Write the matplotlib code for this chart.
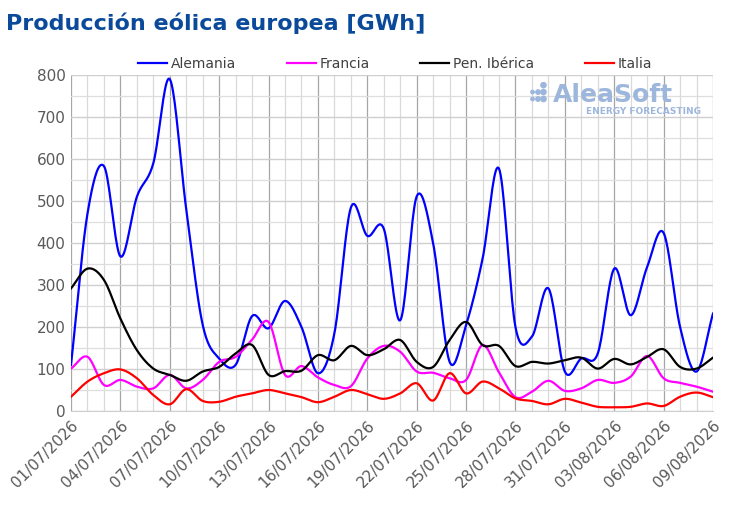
import numpy as np
import matplotlib
matplotlib.use("Agg")
import matplotlib.pyplot as plt
import matplotlib.dates as mdates
from matplotlib.ticker import MultipleLocator
import datetime as dt

start = dt.date(2026, 7, 1)
n_days = 40
dates = [start + dt.timedelta(days=i) for i in range(n_days)]

alemania = [110, 470, 583, 368, 510, 590, 790, 480, 205, 125, 110, 226,
            197, 262, 200, 90, 185, 484, 417, 434, 216, 511, 399, 117,
            205, 362, 577, 200, 177, 292, 94, 125, 137, 339, 228, 343,
            424, 200, 94, 232]
francia = [101, 129, 62, 74, 58, 54, 86, 54, 74, 117, 129, 170,
           212, 86, 107, 80, 62, 59, 125, 155, 141, 94, 91, 78,
           74, 157, 92, 33, 46, 72, 48, 54, 74, 67, 82, 131,
           78, 67, 58, 46]
iberica = [292, 339, 312, 220, 145, 101, 86, 72, 94, 105, 137, 157,
           86, 95, 96, 133, 121, 155, 133, 147, 169, 117, 105, 169,
           212, 157, 155, 107, 117, 113, 121, 127, 101, 124, 111, 129,
           147, 105, 101, 127]
italia = [34, 70, 90, 99, 78, 38, 16, 52, 24, 22, 34, 42,
          50, 42, 33, 21, 34, 50, 40, 29, 42, 66, 25, 90,
          42, 70, 54, 30, 24, 16, 29, 20, 10, 9, 10, 18,
          12, 34, 44, 33]

series = [("Alemania", alemania, "#0000FF"),
          ("Francia", francia, "#FF00FF"),
          ("Pen. Ibérica", iberica, "#000000"),
          ("Italia", italia, "#FF0000")]


def smooth(x, y, n=20):
    x = np.asarray(x, float)
    y = np.asarray(y, float)
    xs, ys = [], []
    m = len(x)
    for i in range(m - 1):
        p0 = (x[i - 1], y[i - 1]) if i > 0 else (2 * x[i] - x[i + 1], 2 * y[i] - y[i + 1])
        p1 = (x[i], y[i])
        p2 = (x[i + 1], y[i + 1])
        p3 = (x[i + 2], y[i + 2]) if i + 2 < m else (2 * x[i + 1] - x[i], 2 * y[i + 1] - y[i])
        t = np.linspace(0, 1, n, endpoint=False)[:, None]
        c = [np.array(p) for p in (p0, p1, p2, p3)]
        pts = 0.5 * ((2 * c[1]) + (-c[0] + c[2]) * t
                     + (2 * c[0] - 5 * c[1] + 4 * c[2] - c[3]) * t ** 2
                     + (-c[0] + 3 * c[1] - 3 * c[2] + c[3]) * t ** 3)
        xs.extend(pts[:, 0]); ys.extend(pts[:, 1])
    xs.append(x[-1]); ys.append(y[-1])
    return np.array(xs), np.array(ys)


fig = plt.figure(figsize=(7.3, 5.09), dpi=100)
ax = fig.add_axes([0.0973, 0.1925, 0.8794, 0.6602])

xnum = mdates.date2num(dates)
for name, vals, col in series:
    sx, sy = smooth(xnum, vals)
    ax.plot(sx, sy, color=col, lw=1.6, label=name, zorder=3)

ax.set_xlim(xnum[0], xnum[-1])
ax.set_ylim(0, 800)
ax.yaxis.set_major_locator(MultipleLocator(100))
ax.yaxis.set_minor_locator(MultipleLocator(50))
ax.set_xticks(xnum[::3])
ax.set_xticks(xnum, minor=True)
ax.xaxis.set_major_formatter(mdates.DateFormatter("%d/%m/%Y"))

ax.grid(True, which="major", axis="x", color="#a6a6a6", lw=0.9)
ax.grid(True, which="minor", axis="x", color="#d9d9d9", lw=0.9)
ax.grid(True, which="major", axis="y", color="#cfcfcf", lw=1.0)
ax.grid(True, which="minor", axis="y", color="#dedede", lw=0.9)
ax.set_axisbelow(True)
for s in ax.spines.values():
    s.set_visible(False)
ax.spines["bottom"].set_visible(True)
ax.spines["bottom"].set_color("#d0d0d0")
ax.tick_params(axis="both", which="both", length=0, colors="#595959", labelsize=11)
ax.tick_params(axis="y", pad=4)
ax.tick_params(axis="x", pad=5)
plt.setp(ax.get_xticklabels(), rotation=45, ha="right", rotation_mode="anchor")

fig.text(0.008, 0.955, "Producción eólica europea [GWh]", color="#0B4A9A",
         fontsize=16, fontweight="bold", va="center", ha="left")

leg = ax.legend(loc="lower center", bbox_to_anchor=(0.505, 0.975), ncol=4, frameon=False,
                fontsize=10, handlelength=2.1, handletextpad=0.3, columnspacing=3.6,
                labelcolor="#404040")

logo_col = "#9db6dc"
fig.text(0.84, 0.813, "AleaSoft", color=logo_col, fontsize=18, fontweight="bold",
         ha="center", va="center", zorder=5)
fig.text(0.881, 0.781, "ENERGY FORECASTING", color=logo_col, fontsize=6.5,
         fontweight="bold", ha="center", va="center", zorder=5)
ax_dots = fig.add_axes([0.722, 0.796, 0.03, 0.042])
ax_dots.axis("off")
ax_dots.set_xlim(0, 4); ax_dots.set_ylim(0, 4)
ax_dots.scatter([3, 3, 2, 1, 3, 2, 1], [3.5, 2.2, 2.2, 2.2, 0.9, 0.9, 0.9],
                s=[14, 14, 10, 6, 14, 10, 6], color=logo_col)

fig.savefig("out.png", dpi=100)
